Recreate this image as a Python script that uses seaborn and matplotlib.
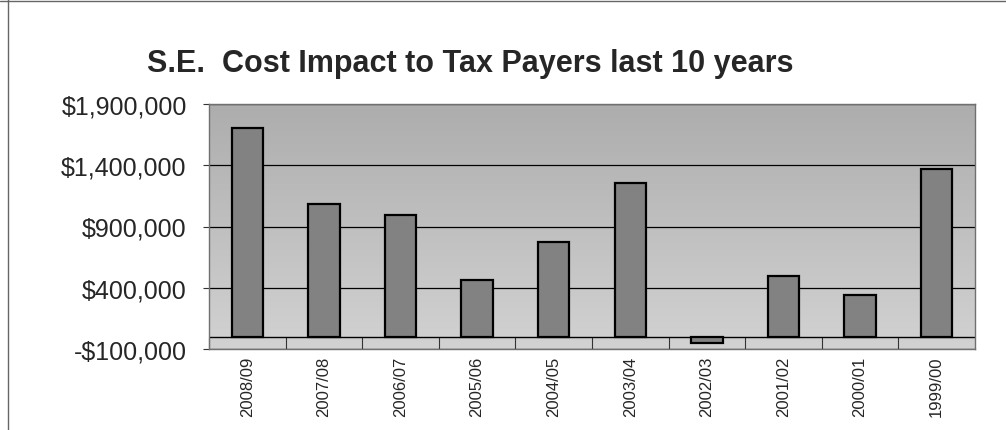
import numpy as np
import matplotlib
matplotlib.use("Agg")
import matplotlib.pyplot as plt
import seaborn as sns
from matplotlib.ticker import FuncFormatter, FixedLocator
from matplotlib.lines import Line2D
from matplotlib.colors import LinearSegmentedColormap

categories = ["2008/09", "2007/08", "2006/07", "2005/06", "2004/05",
              "2003/04", "2002/03", "2001/02", "2000/01", "1999/00"]
values = [1701000, 1086000, 993000, 466000, 772000,
          1252000, -55000, 493000, 338000, 1370000]
y_ticks = [-100000, 400000, 900000, 1400000, 1900000]
title = "S.E.  Cost Impact to Tax Payers last 10 years"

sns.set_theme(style="white")
plt.rcParams["font.family"] = ["Liberation Sans", "DejaVu Sans"]

fig = plt.figure(figsize=(10.06, 4.31), dpi=100)
W, H = 1006, 431
ax = fig.add_axes([209 / W, (H - 350) / H, 766 / W, 245 / H])

# gradient background of plot area (darker at top)
grad = np.linspace(0, 1, 256).reshape(-1, 1)
cmap = LinearSegmentedColormap.from_list("bg", ["#adadad", "#d2d2d2"])
ax.imshow(grad, aspect="auto", cmap=cmap, extent=[0, 1, 0, 1],
          origin="upper", transform=ax.transAxes, zorder=0)

sns.barplot(x=categories, y=values, color="#828282", saturation=1,
            edgecolor="black", linewidth=1.6, width=0.41, ax=ax, zorder=3)

ax.set_ylim(y_ticks[0], y_ticks[-1])
ax.set_xlim(-0.5, len(categories) - 0.5)
ax.yaxis.set_major_locator(FixedLocator(y_ticks))
ax.yaxis.set_major_formatter(FuncFormatter(
    lambda v, p: ("-$" if v < 0 else "$") + f"{abs(int(round(v))):,}"))
ax.yaxis.grid(True, color="black", linewidth=0.9, zorder=1)
ax.set_axisbelow(True)
ax.axhline(0, color="black", linewidth=1.0, zorder=2)

ax.set_xlabel("")
ax.set_ylabel("")
ax.tick_params(axis="y", labelsize=18, length=4, width=0.8, pad=12,
               left=True, color="#333333")
ax.tick_params(axis="x", which="major", labelsize=12, rotation=90,
               length=0, pad=5)
ax.set_xticks(np.arange(len(categories)) - 0.5, minor=True)
ax.tick_params(axis="x", which="minor", direction="in", length=8.6,
               width=0.8, color="#333333", bottom=True)
for lab in ax.get_xticklabels():
    lab.set_va("top")

for s in ax.spines.values():
    s.set_color("#707070")
    s.set_linewidth(1.0)

fig.text(470 / W, (H - 72) / H, title, ha="center", va="baseline",
         fontsize=22, fontweight="bold")

# scanned page borders
fig.add_artist(Line2D([0, 1], [(H - 2) / H, (H - 2) / H], color="#666666",
                      linewidth=1.0, transform=fig.transFigure))
fig.add_artist(Line2D([8 / W, 8 / W], [0, 1], color="#666666",
                      linewidth=1.0, transform=fig.transFigure))

fig.savefig("out.png", dpi=100, facecolor="white")
